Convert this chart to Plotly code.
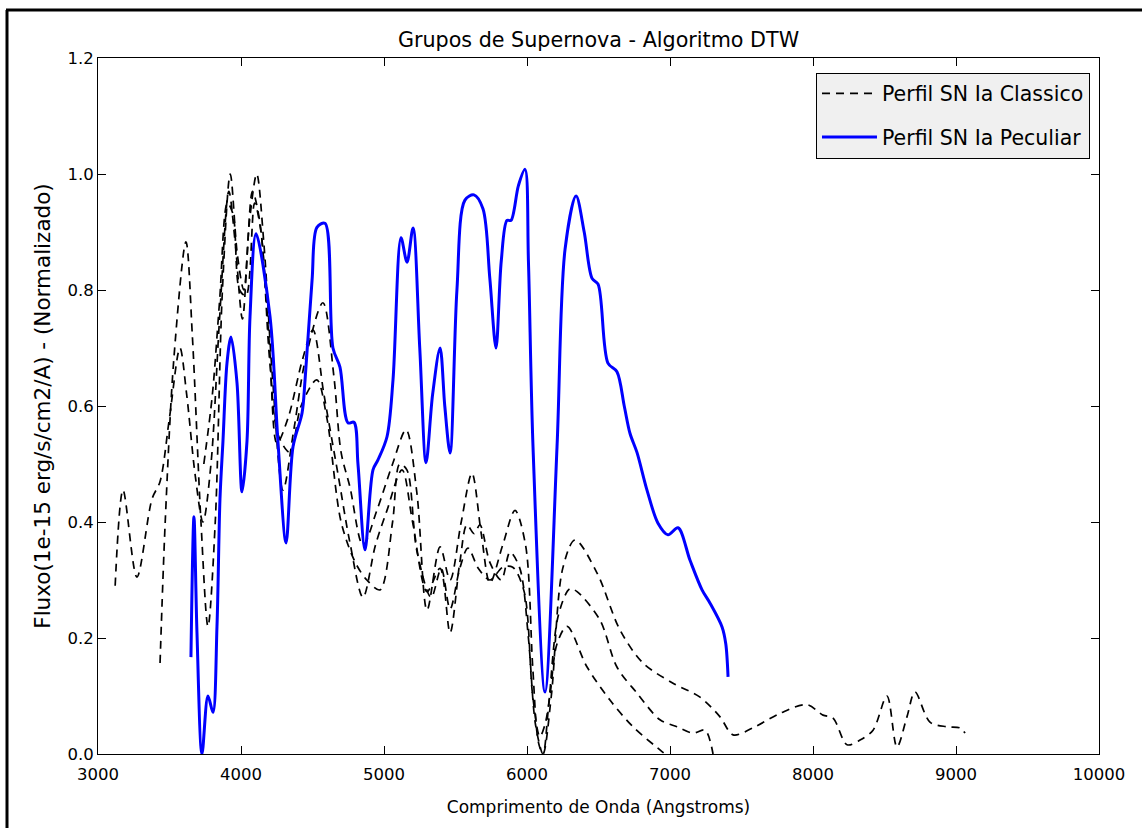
import plotly.graph_objects as go

# ---- Data ----
peculiar_x = [3650, 3671, 3692, 3727, 3769, 3804, 3832, 3853, 3874, 3902, 3930, 3972, 4007, 4042, 4063,
              4105, 4203, 4259, 4315, 4364, 4427, 4448, 4497, 4531, 4587, 4643, 4692, 4748, 4790, 4818,
              4867, 4923, 4958, 5021, 5063, 5119, 5161, 5203, 5250, 5294, 5340, 5392, 5425, 5462, 5510,
              5566, 5629, 5692, 5740, 5783, 5820, 5860, 5888, 5940, 5986, 6010, 6042, 6126, 6210, 6266,
              6343, 6400, 6455, 6497, 6566, 6629, 6680, 6720, 6769, 6839, 6916, 6986, 7056, 7140, 7224,
              7280, 7364, 7390, 7406]
peculiar_y = [0.167, 0.409, 0.21, 0.0, 0.10, 0.072, 0.22, 0.44, 0.54, 0.674, 0.719, 0.64, 0.452, 0.54, 0.754,
              0.897, 0.754, 0.536, 0.364, 0.53, 0.588, 0.645, 0.817, 0.908, 0.915, 0.70, 0.667, 0.571, 0.572, 0.50,
              0.352, 0.49, 0.507, 0.547, 0.645, 0.89, 0.848, 0.907, 0.70, 0.502, 0.62, 0.70, 0.60, 0.519, 0.80,
              0.955, 0.964, 0.94, 0.82, 0.70, 0.85, 0.92, 0.92, 0.98, 1.008, 0.85, 0.53, 0.107, 0.53, 0.87,
              0.962, 0.90, 0.82, 0.81, 0.674, 0.659, 0.60, 0.553, 0.52, 0.455, 0.398, 0.378, 0.39, 0.334, 0.283,
              0.26, 0.219, 0.19, 0.133]

classic1_x = [3120, 3175, 3272, 3378, 3434, 3500, 3573, 3620, 3680, 3734, 3790, 3850, 3915, 3960, 4010,
              4060, 4110, 4160, 4220, 4294, 4370, 4450, 4573, 4650, 4700, 4762, 4853, 4950, 5060, 5154,
              5230, 5301, 5392, 5462, 5540, 5615, 5680, 5741, 5830, 5916, 5990, 6040, 6080, 6112, 6170,
              6250, 6336, 6490, 6650, 6811, 7021, 7210, 7350, 7441, 7580, 7769, 7958, 8070, 8140, 8238,
              8329, 8420, 8517, 8587, 8657, 8713, 8818, 8937, 9028, 9063]
classic1_y = [0.29, 0.455, 0.305, 0.44, 0.47, 0.58, 0.70, 0.62, 0.48, 0.40, 0.50, 0.75, 0.97, 0.88, 0.75,
              0.92, 1.0, 0.88, 0.65, 0.455, 0.56, 0.68, 0.778, 0.65, 0.52, 0.46, 0.36, 0.42, 0.50, 0.559,
              0.45, 0.248, 0.357, 0.30, 0.40, 0.484, 0.38, 0.295, 0.36, 0.42, 0.36, 0.15, 0.02, 0.0, 0.10,
              0.32, 0.369, 0.312, 0.214, 0.157, 0.122, 0.098, 0.064, 0.033, 0.045, 0.07, 0.085, 0.067, 0.062, 0.016,
              0.024, 0.041, 0.10, 0.012, 0.064, 0.107, 0.055, 0.047, 0.045, 0.036]

classic2_x = [3434, 3470, 3530, 3615, 3660, 3720, 3769, 3820, 3870, 3925, 3975, 4020, 4080, 4130, 4200,
              4252, 4330, 4430, 4503, 4580, 4680, 4762, 4853, 4940, 5021, 5126, 5200, 5301, 5392, 5462,
              5530, 5580, 5630, 5671, 5741, 5820, 5881, 5950, 6010, 6060, 6112, 6150, 6220, 6300, 6350,
              6510, 6629, 6769, 6930, 7049, 7161, 7245, 7301]
classic2_y = [0.157, 0.40, 0.68, 0.883, 0.72, 0.40, 0.22, 0.40, 0.80, 1.0, 0.86, 0.80, 0.97, 0.92, 0.70,
              0.536, 0.58, 0.68, 0.731, 0.62, 0.48, 0.364, 0.27, 0.36, 0.42, 0.49, 0.40, 0.28, 0.32, 0.209,
              0.33, 0.395, 0.38, 0.395, 0.33, 0.30, 0.348, 0.32, 0.20, 0.05, 0.0, 0.08, 0.24, 0.285, 0.28,
              0.231, 0.15, 0.105, 0.059, 0.047, 0.036, 0.041, 0.0]

classic3_x = [3740, 3800, 3850, 3905, 3945, 3990, 4035, 4095, 4140, 4200, 4260, 4343, 4420, 4530, 4600,
              4700, 4800, 4880, 4972, 5060, 5110, 5160, 5230, 5330, 5400, 5462, 5530, 5587, 5660, 5741,
              5830, 5900, 5980, 6040, 6090, 6125, 6160, 6210, 6280, 6420, 6580, 6741, 6930, 6965]
classic3_y = [0.50, 0.62, 0.78, 0.95, 0.93, 0.80, 0.79, 0.95, 0.90, 0.68, 0.55, 0.52, 0.60, 0.645, 0.58,
              0.40, 0.33, 0.30, 0.283, 0.40, 0.50, 0.49, 0.35, 0.27, 0.32, 0.25, 0.32, 0.355, 0.32, 0.30,
              0.322, 0.322, 0.28, 0.10, 0.03, 0.05, 0.10, 0.19, 0.22, 0.15, 0.093, 0.047, 0.007, 0.0]

x_ticks = [3000, 4000, 5000, 6000, 7000, 8000, 9000, 10000]
y_ticks = [0.0, 0.2, 0.4, 0.6, 0.8, 1.0, 1.2]

title_text = "Grupos de Supernova - Algoritmo DTW"
x_label = "Comprimento de Onda (Angstroms)"
y_label = "Fluxo(1e-15 erg/s/cm2/A) - (Normalizado)"
legend_classic = "Perfil SN Ia Classico"
legend_peculiar = "Perfil SN Ia Peculiar"

FONT = "DejaVu Sans"

fig = go.Figure()

dash_line = dict(color="black", width=1.7, dash="8px,6px", shape="spline", smoothing=0.9)
classics = [(classic1_x, classic1_y), (classic2_x, classic2_y), (classic3_x, classic3_y)]
for i, (cx, cy) in enumerate(classics):
    fig.add_trace(go.Scatter(x=cx, y=cy, mode="lines", line=dash_line,
                             name=legend_classic, legendgroup="classic",
                             showlegend=(i == 0)))

fig.add_trace(go.Scatter(x=peculiar_x, y=peculiar_y, mode="lines",
                         line=dict(color="#0000ff", width=3, shape="spline", smoothing=0.9),
                         name=legend_peculiar, legendgroup="peculiar"))

axis_common = dict(showgrid=False, zeroline=False, showline=True, linecolor="black", linewidth=1,
                   mirror="ticks", ticks="inside", ticklen=8, tickwidth=1, tickcolor="black",
                   tickfont=dict(family=FONT, size=16.5, color="black"))

fig.update_xaxes(range=[3000, 10000], tickvals=x_ticks, tickformat="d", ticklabelstandoff=5,
                 title=dict(text=x_label, font=dict(family=FONT, size=17, color="black"), standoff=18),
                 **axis_common)
fig.update_yaxes(range=[0, 1.2], tickvals=y_ticks, tickformat=".1f",
                 title=dict(text=y_label, font=dict(family=FONT, size=21.5, color="black"), standoff=10),
                 **axis_common)

fig.update_layout(
    width=1142, height=828,
    margin=dict(l=98, r=43, t=58, b=74, autoexpand=False),
    paper_bgcolor="white", plot_bgcolor="white",
    font=dict(family=FONT, color="black"),
    title=dict(text=title_text, x=0.5, xref="paper", xanchor="center",
               y=1 - 40 / 828, yref="container", yanchor="middle",
               font=dict(family=FONT, size=20.7, color="black")),
    legend=dict(x=0.991, y=0.979, xanchor="right", yanchor="top",
                bgcolor="#f0f0f0", bordercolor="black", borderwidth=1,
                font=dict(family=FONT, size=20.5, color="black"),
                traceorder="grouped", tracegroupgap=14, itemwidth=55),
    showlegend=True,
)

# frame lines (left and top edge of the picture)
fig.add_shape(type="line", xref="paper", yref="paper",
              x0=(7 - 98) / 1001, x1=(7 - 98) / 1001, y0=(754 - 830) / 696, y1=(754 - 10) / 696,
              line=dict(color="black", width=3))
fig.add_shape(type="line", xref="paper", yref="paper",
              x0=(6 - 98) / 1001, x1=(1145 - 98) / 1001, y0=(754 - 10) / 696, y1=(754 - 10) / 696,
              line=dict(color="black", width=3))

fig.write_html("out.html", config={"displayModeBar": False},
               post_script="document.body.style.margin='0';document.body.style.overflow='hidden';")
